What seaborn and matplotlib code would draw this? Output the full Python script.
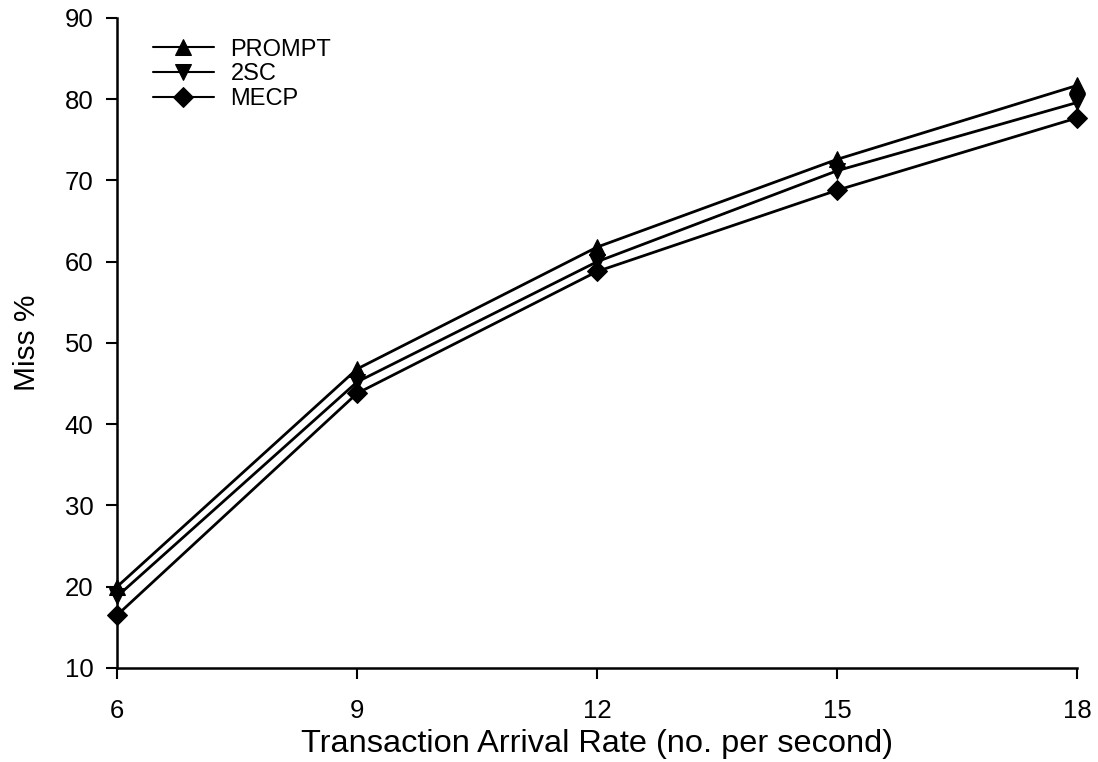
import numpy as np
import pandas as pd
import matplotlib
matplotlib.use("Agg")
import matplotlib.pyplot as plt
import seaborn as sns

# Transaction arrival rates (per second) and miss percentages per protocol
arrival_rate = [6, 9, 12, 15, 18]
prompt_miss = [20.0, 46.8, 61.8, 72.6, 81.7]
twosc_miss = [18.8, 45.2, 60.0, 71.2, 79.6]
mecp_miss = [16.5, 43.8, 58.8, 68.8, 77.7]
protocols = ["PROMPT", "2SC", "MECP"]
x_ticks = [6, 9, 12, 15, 18]
y_ticks = [10, 20, 30, 40, 50, 60, 70, 80, 90]

df = pd.DataFrame({
    "rate": arrival_rate * 3,
    "miss": prompt_miss + twosc_miss + mecp_miss,
    "protocol": np.repeat(protocols, len(arrival_rate)),
})

sns.set_theme(style="ticks")
plt.rcParams["font.family"] = ["Liberation Sans", "DejaVu Sans"]
plt.rcParams["text.color"] = "black"
plt.rcParams["axes.labelcolor"] = "black"

fig = plt.figure(figsize=(10.98, 7.62), dpi=100)
ax = fig.add_axes([0.1066, 0.1234, 0.8744, 0.853])

sns.lineplot(
    data=df, x="rate", y="miss", hue="protocol", style="protocol",
    hue_order=protocols, style_order=protocols,
    palette=["black"] * 3,
    markers={"PROMPT": "^", "2SC": "v", "MECP": "D"},
    dashes=False, linewidth=2.0, markersize=12, markeredgecolor="black",
    ax=ax,
)
# diamonds a little smaller than the triangles; let edge markers overhang the axes
for line in ax.lines:
    line.set_clip_on(False)
    if line.get_marker() == "D":
        line.set_markersize(10)

ax.set_xlim(6, 18)
ax.set_ylim(10, 90)
ax.set_xticks(x_ticks)
ax.set_yticks(y_ticks)
ax.set_xlabel("Transaction Arrival Rate (no. per second)", fontsize=23.4,
              labelpad=5, color="black")
ax.set_ylabel("Miss %", fontsize=21.5, labelpad=17, color="black")
ax.tick_params(axis="both", direction="out", length=8, width=1.5, labelsize=18.5,
               colors="black")
ax.tick_params(axis="x", pad=14)
ax.tick_params(axis="y", pad=9)
for side in ("top", "right"):
    ax.spines[side].set_visible(False)
for side in ("left", "bottom"):
    ax.spines[side].set_linewidth(1.8)
    ax.spines[side].set_color("black")
ax.margins(0)

leg = ax.legend(loc="upper left", bbox_to_anchor=(0.023, 0.99), frameon=False,
                fontsize=17, handlelength=2.55, handletextpad=0.72,
                labelspacing=0.12, borderaxespad=0.2)
for h in leg.legend_handles:
    h.set_linewidth(1.5)
for t in leg.get_texts():
    t.set_color("black")

fig.savefig("out.png", dpi=100, facecolor="white")
